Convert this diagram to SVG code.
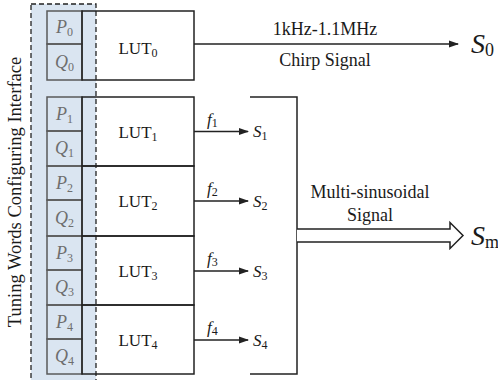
<svg xmlns="http://www.w3.org/2000/svg" width="498" height="380" viewBox="0 0 498 380">
<style>
text{font-family:"Liberation Serif","Times New Roman",serif;fill:#1a1a1a}
.lut{fill:none;stroke:#222;stroke-width:1.5}
.cell{fill:none;stroke:#5a5a5a;stroke-width:1.5}
.pq{font-style:italic;fill:#6e6e6e;font-size:18px;text-anchor:middle}
.lt{font-size:17px;text-anchor:middle}
.ln{stroke:#222;stroke-width:1.5;fill:none}
.it{font-style:italic;font-size:17px}
.sb{font-style:normal;font-size:12px}
.lbl{font-size:18px;text-anchor:middle}
.big{font-style:italic;font-size:28px}
.bsb{font-style:normal;font-size:18px}
</style>
<defs>
<marker id="ah" markerWidth="10" markerHeight="8" refX="9" refY="4" orient="auto" markerUnits="userSpaceOnUse">
<path d="M0,0.5 L10,4 L0,7.5 Z" fill="#222"/>
</marker>
</defs>
<g id="interface">
<rect x="31" y="4" width="65" height="390" fill="#dae5f1" stroke="#222" stroke-width="1.3" stroke-dasharray="5,3"/>
<text transform="translate(21,192) rotate(-90)" font-size="18.5" text-anchor="middle">Tuning Words Configuring Interface</text>
</g>
<g id="cells">
<rect class="cell" x="47" y="11" width="35" height="33"/>
<rect class="cell" x="47" y="44" width="35" height="36"/>
<rect class="cell" x="47" y="97" width="35" height="34"/>
<rect class="cell" x="47" y="131" width="35" height="35"/>
<rect class="cell" x="47" y="166" width="35" height="34"/>
<rect class="cell" x="47" y="200" width="35" height="36"/>
<rect class="cell" x="47" y="236" width="35" height="34"/>
<rect class="cell" x="47" y="270" width="35" height="35"/>
<rect class="cell" x="47" y="305" width="35" height="34"/>
<rect class="cell" x="47" y="339" width="35" height="35"/>
<text class="pq" x="64.5" y="33">P<tspan class="sb" dy="3">0</tspan></text>
<text class="pq" x="64.5" y="68">Q<tspan class="sb" dy="3">0</tspan></text>
<text class="pq" x="64.5" y="120">P<tspan class="sb" dy="3">1</tspan></text>
<text class="pq" x="64.5" y="154">Q<tspan class="sb" dy="3">1</tspan></text>
<text class="pq" x="64.5" y="189">P<tspan class="sb" dy="3">2</tspan></text>
<text class="pq" x="64.5" y="224">Q<tspan class="sb" dy="3">2</tspan></text>
<text class="pq" x="64.5" y="259">P<tspan class="sb" dy="3">3</tspan></text>
<text class="pq" x="64.5" y="293">Q<tspan class="sb" dy="3">3</tspan></text>
<text class="pq" x="64.5" y="328">P<tspan class="sb" dy="3">4</tspan></text>
<text class="pq" x="64.5" y="362">Q<tspan class="sb" dy="3">4</tspan></text>
</g>
<g id="lut0">
<rect class="lut" x="82" y="11" width="112" height="69"/>
<text class="lt" x="138" y="54">LUT<tspan class="sb" dy="3">0</tspan></text>
</g>
<g id="lut1">
<rect class="lut" x="82" y="97" width="112" height="69"/>
<text class="lt" x="138" y="138">LUT<tspan class="sb" dy="3">1</tspan></text>
</g>
<g id="lut2">
<rect class="lut" x="82" y="166" width="112" height="70"/>
<text class="lt" x="138" y="207">LUT<tspan class="sb" dy="3">2</tspan></text>
</g>
<g id="lut3">
<rect class="lut" x="82" y="236" width="112" height="69"/>
<text class="lt" x="138" y="277">LUT<tspan class="sb" dy="3">3</tspan></text>
</g>
<g id="lut4">
<rect class="lut" x="82" y="305" width="112" height="69"/>
<text class="lt" x="138" y="346">LUT<tspan class="sb" dy="3">4</tspan></text>
</g>
<g id="connectors">
<line class="ln" x1="194" y1="44" x2="458" y2="44" marker-end="url(#ah)"/>
<line class="ln" x1="194" y1="131.5" x2="248" y2="131.5" marker-end="url(#ah)"/>
<line class="ln" x1="194" y1="201" x2="248" y2="201" marker-end="url(#ah)"/>
<line class="ln" x1="194" y1="271" x2="248" y2="271" marker-end="url(#ah)"/>
<line class="ln" x1="194" y1="340" x2="248" y2="340" marker-end="url(#ah)"/>
<path class="ln" d="M250,97 H297 V374 H250"/>
<path d="M297,229 H450 V222.5 L463,235.5 L450,248.5 V242 H297" fill="#fff" stroke="#222" stroke-width="1.5"/>
</g>
<g id="labels">
<text class="lbl" x="325" y="35">1kHz-1.1MHz</text>
<text class="lbl" x="325" y="66">Chirp Signal</text>
<text class="lbl" x="370" y="198">Multi-sinusoidal</text>
<text class="lbl" x="370" y="221">Signal</text>
<text class="it" x="207" y="125">f<tspan class="sb" dy="2">1</tspan></text>
<text class="it" x="207" y="194">f<tspan class="sb" dy="2">2</tspan></text>
<text class="it" x="207" y="264">f<tspan class="sb" dy="2">3</tspan></text>
<text class="it" x="207" y="333">f<tspan class="sb" dy="2">4</tspan></text>
<text class="it" x="253" y="137">S<tspan class="sb" dy="3">1</tspan></text>
<text class="it" x="253" y="207">S<tspan class="sb" dy="3">2</tspan></text>
<text class="it" x="253" y="277">S<tspan class="sb" dy="3">3</tspan></text>
<text class="it" x="253" y="346">S<tspan class="sb" dy="3">4</tspan></text>
<text class="big" x="471" y="53">S<tspan class="bsb" dy="3">0</tspan></text>
<text class="big" x="471" y="245">S<tspan class="bsb" dy="3">m</tspan></text>
</g>
</svg>
